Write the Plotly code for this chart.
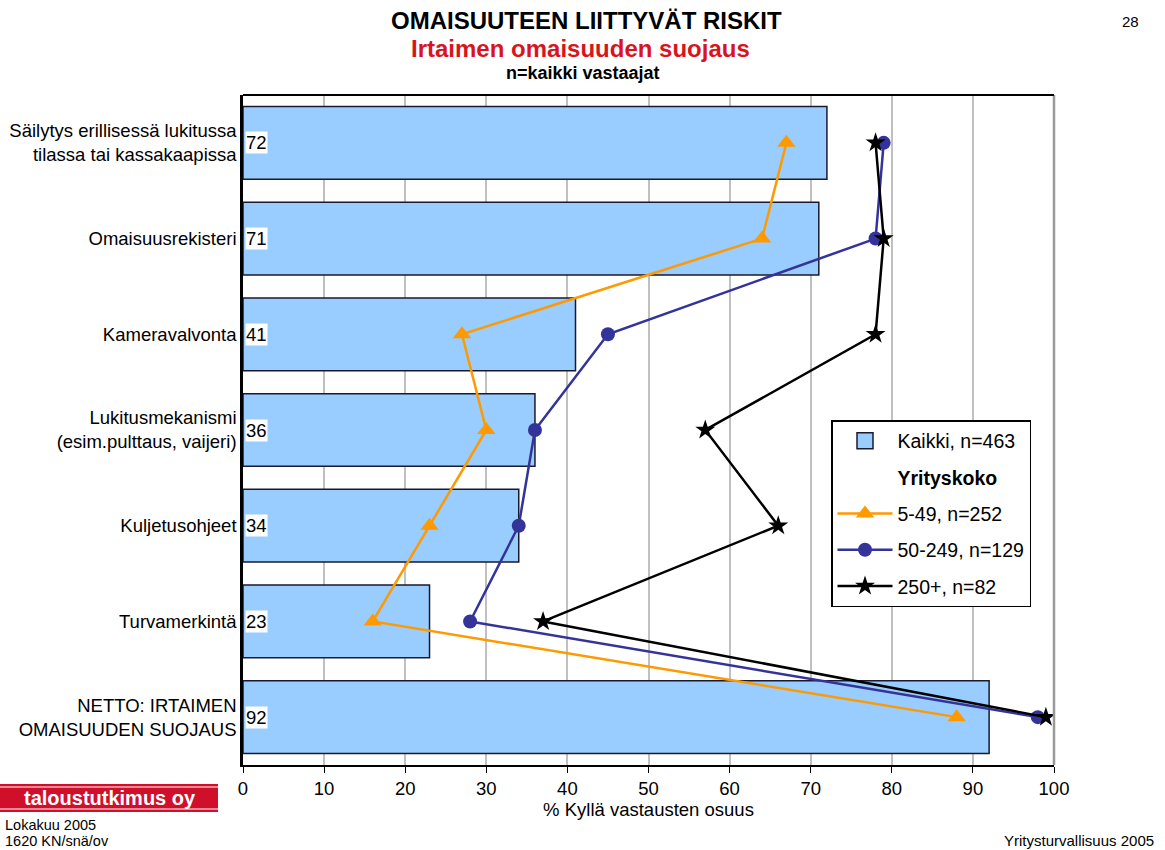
import plotly.graph_objects as go

# Survey items (top to bottom)
categories = [
    "Säilytys erillisessä lukitussa<br>tilassa tai kassakaapissa",
    "Omaisuusrekisteri",
    "Kameravalvonta",
    "Lukitusmekanismi<br>(esim.pulttaus, vaijeri)",
    "Kuljetusohjeet",
    "Turvamerkintä",
    "NETTO: IRTAIMEN<br>OMAISUUDEN SUOJAUS",
]

# Share of "yes" answers, %
kaikki = [72, 71, 41, 36, 34, 23, 92]
size_5_49 = [67, 64, 27, 30, 23, 16, 88]
size_50_249 = [79, 78, 45, 36, 34, 28, 98]
size_250 = [78, 79, 78, 57, 66, 37, 99]

x_ticks = [0, 10, 20, 30, 40, 50, 60, 70, 80, 90, 100]

FONT = "Liberation Sans, Arial, sans-serif"
BAR_FILL = "#99CCFF"
BAR_EDGE = "#1a1a2e"

W, H = 1165, 850
L, R, T, B = 243, 1054, 95, 765


def px_to_paper(px, py):
    return (px - L) / (R - L), (B - py) / (B - T)


fig = go.Figure()

fig.add_trace(go.Bar(
    y=categories, x=kaikki, orientation="h", width=0.76,
    marker=dict(color=BAR_FILL, line=dict(color=BAR_EDGE, width=1.5)),
    name="Kaikki, n=463", showlegend=False,
))

# legend entries: total sample swatch and group header
fig.add_trace(go.Scatter(
    x=[None], y=[None], mode="markers",
    marker=dict(symbol="square", size=21, color=BAR_FILL, line=dict(color=BAR_EDGE, width=1.5)),
    name="Kaikki, n=463", legendgroup="a",
))
fig.add_trace(go.Scatter(
    x=[None], y=[None], mode="markers", marker=dict(size=1, color="rgba(0,0,0,0)"),
    name="<b>Yrityskoko</b>", legendgroup="b",
))

fig.add_trace(go.Scatter(
    y=categories, x=size_5_49, mode="lines+markers",
    line=dict(color="#FF9900", width=2.5),
    marker=dict(symbol="triangle-up", size=16, color="#FF9900"),
    name="5-49, n=252", legendgroup="c",
))
fig.add_trace(go.Scatter(
    y=categories, x=size_50_249, mode="lines+markers",
    line=dict(color="#333399", width=2.5),
    marker=dict(symbol="circle", size=14, color="#333399"),
    name="50-249, n=129", legendgroup="d",
))
fig.add_trace(go.Scatter(
    y=categories, x=size_250, mode="lines+markers",
    line=dict(color="#000000", width=2.5),
    marker=dict(symbol="star", size=15, color="#000000"),
    name="250+, n=82", legendgroup="e",
))

# value labels at the base of each bar
for cat, v in zip(categories, kaikki):
    fig.add_annotation(
        x=0, y=cat, xref="x", yref="y", text=str(v), showarrow=False,
        xanchor="left", xshift=2, bgcolor="white", borderpad=0,
        font=dict(family=FONT, size=18.5, color="black"),
    )

# frame: grey right edge, black top edge
fig.add_shape(type="line", xref="paper", yref="paper", x0=1, x1=1, y0=0, y1=1,
              line=dict(color="#999999", width=2.5), layer="above")
fig.add_shape(type="line", xref="paper", yref="paper", x0=0, x1=1, y0=1, y1=1,
              line=dict(color="black", width=2), layer="above")

# titles and page texts
texts = [
    (586, 20, "<b>OMAISUUTEEN LIITTYVÄT RISKIT</b>", 24, "black", "center"),
    (580, 48, "<b>Irtaimen omaisuuden suojaus</b>", 24, "#D8141E", "center"),
    (583, 73, "<b>n=kaikki vastaajat</b>", 18, "black", "center"),
    (1141, 22, "28", 15, "black", "right"),
    (3, 825, "Lokakuu 2005", 14.5, "black", "left"),
    (3, 841, "1620 KN/snä/ov", 14.5, "black", "left"),
    (1156, 840, "Yritysturvallisuus 2005", 15, "black", "right"),
]
for px, py, txt, sz, col, anchor in texts:
    xp, yp = px_to_paper(px, py)
    fig.add_annotation(x=xp, y=yp, xref="paper", yref="paper", text=txt, showarrow=False,
                       xanchor=anchor, yanchor="middle",
                       font=dict(family=FONT, size=sz, color=col))

# company logo band
x0, y0 = px_to_paper(0, 812)
x1, y1 = px_to_paper(218, 784)
fig.add_shape(type="rect", xref="paper", yref="paper", x0=x0, x1=x1, y0=y0, y1=y1,
              fillcolor="#D0102A", line=dict(width=0))
for ly in (787, 809):
    _, yl = px_to_paper(0, ly)
    fig.add_shape(type="line", xref="paper", yref="paper", x0=x0, x1=x1, y0=yl, y1=yl,
                  line=dict(color="white", width=1.2))
xc, yc = px_to_paper(110, 798)
fig.add_annotation(x=xc, y=yc, xref="paper", yref="paper", text="<b>taloustutkimus oy</b>",
                   showarrow=False, xanchor="center", yanchor="middle",
                   font=dict(family=FONT, size=20, color="white"))

fig.update_layout(
    width=W, height=H,
    margin=dict(l=L, r=W - R, t=T, b=H - B),
    paper_bgcolor="white", plot_bgcolor="white",
    font=dict(family=FONT, size=18.5, color="black"),
    showlegend=True,
    legend=dict(
        x=(831 - L) / (R - L), y=(B - 420) / (B - T), xanchor="left", yanchor="top",
        bgcolor="white", bordercolor="black", borderwidth=1.5,
        font=dict(family=FONT, size=19.5, color="black"),
        traceorder="grouped", tracegroupgap=8, itemsizing="trace", itemwidth=55,
    ),
    bargap=0.24,
)

fig.update_xaxes(
    range=[0, 100], tickvals=x_ticks, showgrid=True, gridcolor="#C0C0C0", gridwidth=1.5,
    showline=True, linecolor="black", linewidth=2, mirror=False,
    ticks="outside", ticklen=6, tickcolor="black",
    tickfont=dict(family=FONT, size=18.5),
    title=dict(text="% Kyllä vastausten osuus", font=dict(family=FONT, size=18.5), standoff=2),
    zeroline=False, automargin=False,
)
fig.update_yaxes(
    autorange="reversed", showline=True, linecolor="black", linewidth=2.5,
    ticks="", tickfont=dict(family=FONT, size=18.5), showgrid=False, automargin=False,
)

fig.write_html("out.html")
